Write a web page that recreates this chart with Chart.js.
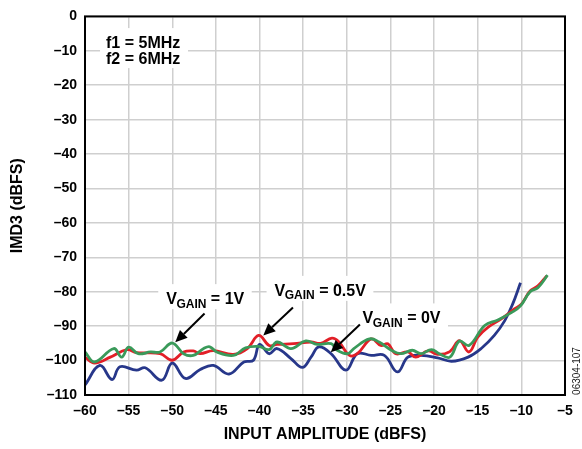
<!DOCTYPE html>
<html><head><meta charset="utf-8">
<script src="https://cdn.jsdelivr.net/npm/chart.js@4/dist/chart.umd.min.js"></script>
<style>html,body{margin:0;padding:0;background:#fff}#wrap{width:582px;height:449px;position:relative}</style>
</head><body><div id="wrap"><canvas id="c" width="582" height="449"></canvas></div>
<script>
const xTicks = [-60,-55,-50,-45,-40,-35,-30,-25,-20,-15,-10,-5];
const yTicks = [0,-10,-20,-30,-40,-50,-60,-70,-80,-90,-100,-110];

// VGAIN = 0V (blue)
const x0V = [-60,-58.3,-56.9,-56,-54.1,-53.1,-51.2,-50,-48.5,-46.8,-45.3,-43.5,-41.8,-40.7,-40,-38.9,-38,-36.4,-35.1,-34.1,-33.2,-31.8,-30.1,-28.8,-27.2,-25.7,-24.2,-23,-21.5,-19.6,-18,-16.1,-14.6,-13.1,-11.9,-11,-10.1];
const y0V = [-107.1,-101.4,-105.5,-101.8,-102.8,-102.1,-105.7,-100.7,-105.2,-102.6,-101.4,-103.9,-100.4,-99.9,-95.3,-98,-96.5,-99.4,-102,-99,-96,-98,-102.8,-98,-98.5,-98.5,-103.3,-99,-98.5,-99.2,-100.2,-99,-96.5,-92.7,-88.4,-83.6,-77.4];

// VGAIN = 0.5V (red)
const x05V = [-60,-58.9,-57.1,-55.2,-54.1,-51.4,-50,-48.7,-47.6,-46.8,-45.3,-43,-41.4,-40.1,-38.9,-38,-36.1,-34.1,-33,-31.7,-30.9,-29.7,-28.8,-27.2,-26.1,-25.3,-24.4,-23,-22.1,-20.7,-19.6,-18.2,-17.1,-16,-15,-13.8,-12.3,-10.8,-10,-9,-8.1,-7.1];
const y05V = [-99,-100.7,-99,-96.8,-97.7,-98,-99.9,-97.5,-97.2,-98,-97.1,-98.2,-96.5,-92.7,-95.6,-95.3,-95.1,-94.6,-95,-93.5,-94.6,-98.5,-98,-93.7,-95.6,-95.1,-98,-97.5,-99,-97.2,-98.2,-97.4,-94.2,-97.5,-93.2,-90.3,-87.9,-85,-83.6,-79.8,-78.3,-75.4];

// VGAIN = 1V (green)
const x1V = [-60,-58.9,-56.7,-55.8,-55,-53.9,-52.5,-51.4,-50,-48.7,-47.6,-46.4,-45.7,-44.9,-43,-41.6,-40.1,-38.9,-38,-36.4,-34.7,-33.4,-31.8,-31.1,-29.9,-29.2,-27.4,-26.3,-24.9,-23.8,-22.5,-21.5,-20.3,-19.4,-18.2,-17.1,-16,-14.2,-12.7,-11.1,-10.1,-9,-8.1,-7];
const y1V = [-97.5,-100.4,-96.5,-99,-96.1,-98,-97.5,-97.5,-94.9,-98,-98.5,-96.5,-96,-97.5,-98.5,-96.3,-95.9,-96.8,-94.6,-96.5,-94.3,-95.3,-95.1,-97,-98,-96.5,-93.7,-94.6,-97,-98,-97,-98,-96.8,-98,-99,-94.3,-95.6,-89.8,-88.2,-86,-84.1,-80,-78.8,-75.2];

const seriesNames = ['1V','0.5V','0V'];
const FONT = '"Liberation Sans", Arial, Helvetica, sans-serif';
const pts = (xs, ys) => xs.map((x, i) => ({x, y: ys[i]}));
const dash = v => v < 0 ? '\u2013' + Math.abs(v) : String(v);

// annotation anchors in data units
const labels = [
  {text: '1V',   x: -50.69, y: -83.6, ax0: -46.3, ay0: -86.3, ax1: -49.66, ay1: -94.7},
  {text: '0.5V', x: -38.28, y: -81.2, ax0: -36.17, ay0: -84.6, ax1: -39.57, ay1: -92.7},
  {text: '0V',   x: -28.2,  y: -89.2, ax0: -28.5, ay0: -89.5, ax1: -31.84, ay1: -97.6}
];

const annot = {
  id: 'annot',
  afterDatasetsDraw(chart) {
    const {ctx, scales: {x, y}} = chart;
    ctx.save();
    ctx.textBaseline = 'alphabetic';
    ctx.textAlign = 'left';
    // f1 / f2 text
    const fx = x.getPixelForValue(-57.59), fy1 = y.getPixelForValue(-9.21), fy2 = y.getPixelForValue(-13.73);
    ctx.fillStyle = '#fff';
    ctx.fillRect(fx - 6, fy1 - 20, 88, 40);
    ctx.fillStyle = '#000';
    ctx.font = 'bold 16px ' + FONT;
    ctx.fillText('f1 = 5MHz', fx, fy1);
    ctx.fillText('f2 = 6MHz', fx, fy2);
    labels.forEach(l => {
      const px = x.getPixelForValue(l.x), py = y.getPixelForValue(l.y);
      ctx.font = 'bold 16px ' + FONT;
      const w1 = ctx.measureText('V').width;
      const w3 = ctx.measureText(' = ' + l.text).width;
      ctx.font = 'bold 12px ' + FONT;
      const w2 = ctx.measureText('GAIN').width;
      ctx.fillStyle = '#fff';
      ctx.fillRect(px - 8, py - 20, w1 + w2 + w3 + 15, 25);
      ctx.fillStyle = '#000';
      ctx.font = 'bold 16px ' + FONT;
      ctx.fillText('V', px, py);
      ctx.font = 'bold 12px ' + FONT;
      ctx.fillText('GAIN', px + w1 - 0.5, py + 3.5);
      ctx.font = 'bold 16px ' + FONT;
      ctx.fillText(' = ' + l.text, px + w1 + w2 - 0.5, py);
      // arrow
      const x0 = x.getPixelForValue(l.ax0), y0 = y.getPixelForValue(l.ay0);
      const x1 = x.getPixelForValue(l.ax1), y1 = y.getPixelForValue(l.ay1);
      const ang = Math.atan2(y1 - y0, x1 - x0);
      const hl = 12, hw = 5.5;
      const bx = x1 - hl * Math.cos(ang), by = y1 - hl * Math.sin(ang);
      ctx.strokeStyle = '#000';
      ctx.lineWidth = 2;
      ctx.beginPath(); ctx.moveTo(x0, y0); ctx.lineTo(bx, by); ctx.stroke();
      ctx.beginPath();
      ctx.moveTo(x1, y1);
      ctx.lineTo(bx + hw * Math.sin(ang), by - hw * Math.cos(ang));
      ctx.lineTo(bx - hw * Math.sin(ang), by + hw * Math.cos(ang));
      ctx.closePath(); ctx.fillStyle = '#000'; ctx.fill();
    });
    // plot border
    const a = chart.chartArea;
    ctx.strokeStyle = '#000'; ctx.lineWidth = 2;
    ctx.strokeRect(a.left, a.top, a.right - a.left, a.bottom - a.top);
    // figure id
    ctx.font = '10px ' + FONT;
    ctx.fillStyle = '#222';
    ctx.translate(577, 371);
    ctx.rotate(-Math.PI / 2);
    ctx.textAlign = 'center';
    ctx.textBaseline = 'middle';
    ctx.fillText('06304-107', 0, 0);
    ctx.restore();
  }
};

new Chart(document.getElementById('c'), {
  type: 'line',
  data: {
    datasets: [
      {label: seriesNames[0], data: pts(x1V, y1V), borderColor: '#3a9a5a'},
      {label: seriesNames[1], data: pts(x05V, y05V), borderColor: '#e21f27'},
      {label: seriesNames[2], data: pts(x0V, y0V), borderColor: '#27378a'}
    ].map(d => Object.assign(d, {borderWidth: 2.8, pointRadius: 0, tension: 0.4, fill: false}))
  },
  options: {
    responsive: false,
    animation: false,
    layout: {padding: {top: 13, right: 17, left: 0, bottom: 0}},
    plugins: {legend: {display: false}, tooltip: {enabled: false}},
    scales: {
      x: {
        type: 'linear', min: -60, max: -5,
        afterBuildTicks: s => { s.ticks = xTicks.map(v => ({value: v})); },
        afterFit: s => { s.height = 54; },
        grid: {color: '#cfcfcf', lineWidth: 1.5, drawTicks: false},
        border: {display: false},
        ticks: {padding: 8, color: '#000', font: {family: FONT, weight: 'bold', size: 14}, callback: v => dash(v), maxRotation: 0},
        title: {display: true, text: 'INPUT AMPLITUDE (dBFS)', color: '#000', font: {family: FONT, weight: 'bold', size: 16}, padding: {top: 0, bottom: 5}}
      },
      y: {
        min: -110, max: 0,
        afterBuildTicks: s => { s.ticks = yTicks.map(v => ({value: v})); },
        afterFit: s => { s.width = 85; },
        grid: {color: '#cfcfcf', lineWidth: 1.5, drawTicks: false},
        border: {display: false},
        ticks: {padding: 8, color: '#000', font: {family: FONT, weight: 'bold', size: 14}, callback: v => dash(v)},
        title: {display: true, text: 'IMD3 (dBFS)', color: '#000', font: {family: FONT, weight: 'bold', size: 16}, padding: {top: 8, bottom: 0}}
      }
    }
  },
  plugins: [annot]
});
</script></body></html>
